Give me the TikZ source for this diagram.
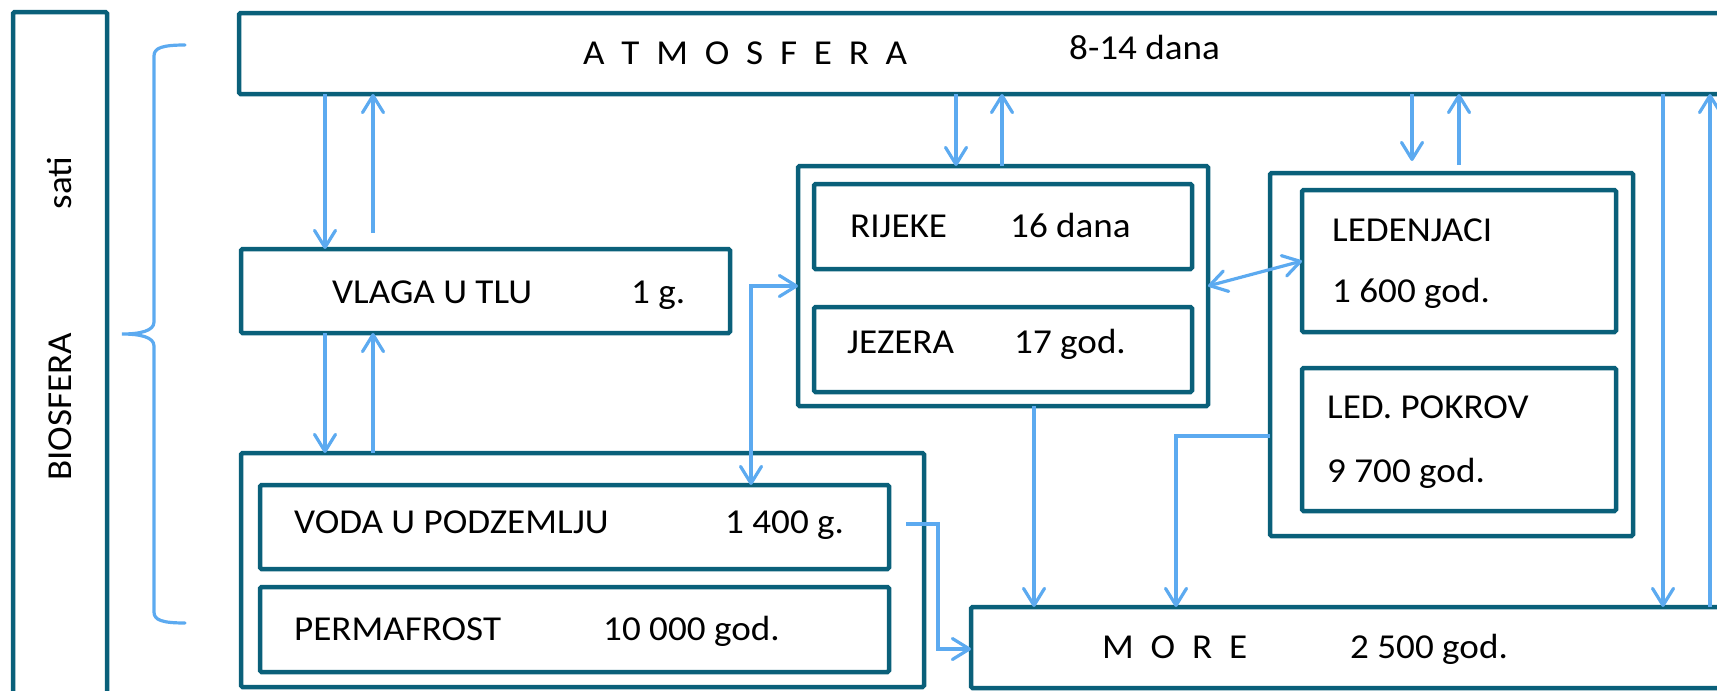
\documentclass[tikz,border=0pt]{standalone}
\usepackage{fontspec}
\setmainfont[FakeStretch=1.06]{Carlito}
\usetikzlibrary{arrows.meta}
\definecolor{boxc}{RGB}{10,96,122}
\definecolor{arrc}{RGB}{92,170,240}
\newcommand\lsp{\hspace{16.8pt}}
\tikzset{
  bx/.style={draw=boxc, line width=4.5pt, rounded corners=1.5pt, inner sep=0pt, outer sep=0pt},
  ln/.style={draw=arrc, line width=3.2pt},
  arr/.style={ln, -{Straight Barb[length=17pt,width=21pt,round]}},
  darr/.style={ln, {Straight Barb[length=17pt,width=21pt,round]}-{Straight Barb[length=17pt,width=21pt,round]}},
  lbl/.style={anchor=base west, inner sep=0pt, font=\fontsize{35}{42}\selectfont},
  rot/.style={anchor=center, inner sep=0pt, rotate=90, font=\fontsize{35}{42}\selectfont},
}
\begin{document}
\begin{tikzpicture}[x=1pt,y=-1pt]
\useasboundingbox (0,0) rectangle (1717,691);
\clip (0,0) rectangle (1717,691);
% boxes
\node[bx, minimum width=94pt,  minimum height=708pt] (bio)      at (60,366) {};
\node[bx, minimum width=1501pt,minimum height=81pt]  (atm)      at (989.5,53.5) {};
\node[bx, minimum width=489pt, minimum height=84pt]  (vlaga)    at (485.5,291) {};
\node[bx, minimum width=683pt, minimum height=234pt] (ground)   at (582.5,570) {};
\node[bx, minimum width=629pt, minimum height=84pt]  (voda)     at (574.5,527) {};
\node[bx, minimum width=629pt, minimum height=85pt]  (perma)    at (574.5,629.5) {};
\node[bx, minimum width=410pt, minimum height=240pt] (rjOuter)  at (1003,286) {};
\node[bx, minimum width=378pt, minimum height=85pt]  (rijeke)   at (1003,226.5) {};
\node[bx, minimum width=378pt, minimum height=85pt]  (jezera)   at (1003,349.5) {};
\node[bx, minimum width=363pt, minimum height=363pt] (ledOuter) at (1451.5,354.5) {};
\node[bx, minimum width=314pt, minimum height=142pt] (leden)    at (1459,261) {};
\node[bx, minimum width=314pt, minimum height=143pt] (pokrov)   at (1459,439.5) {};
\node[bx, minimum width=769pt, minimum height=81pt]  (more)     at (1355.5,647.5) {};
% texts
\node[rot] (tsati) at (60,183) {sati};
\node[rot] (tbio) at (60,407) {BIOSFERA};
\node[lbl] (tatm) at (583,64) {A\lsp T\lsp M\lsp O\lsp S\lsp F\lsp E\lsp R\lsp A};
\node[lbl] (tatmt) at (1069,59) {8-14 dana};
\node[lbl] (tvl) at (332,303) {VLAGA U TLU};
\node[lbl] (tvlt) at (631,303) {1 g.};
\node[lbl] (trij) at (850,237) {RIJEKE};
\node[lbl] (trijt) at (1010,237) {16 dana};
\node[lbl] (tjez) at (847,353) {JEZERA};
\node[lbl] (tjezt) at (1014,353) {17 god.};
\node[lbl] (tvod) at (294,533) {VODA U PODZEMLJU};
\node[lbl] (tvodt) at (725,533) {1 400 g.};
\node[lbl] (tper) at (294,640) {PERMAFROST};
\node[lbl] (tpert) at (603,640) {10 000 god.};
\node[lbl] (tled) at (1332,241) {LEDENJACI};
\node[lbl] (tledt) at (1332,302) {1 600 god.};
\node[lbl] (tpok) at (1327,418) {LED. POKROV};
\node[lbl] (tpokt) at (1327,482) {9 700 god.};
\node[lbl] (tmor) at (1102,658) {M\lsp O\lsp R\lsp E};
\node[lbl] (tmort) at (1350,658) {2 500 god.};
% helper coordinates
\coordinate (c325) at (325,0);
\coordinate (c373) at (373,0);
\coordinate (c1002) at (1002,0);
\coordinate (c956) at (956,0);
\coordinate (c1663) at (1663,0);
\coordinate (c1710) at (1710,0);
\coordinate (c1034) at (1034,0);
\coordinate (a2s) at (373,233);
\coordinate (a7e) at (1412,161);
\coordinate (a8s) at (1459,165);
\coordinate (k12) at (1176,436);
\coordinate (s13) at (906,524);
\coordinate (k13) at (938,649);
\coordinate (k14) at (751,286);
% connectors
\draw[arr] (atm.south -| c325) -- (vlaga.north -| c325);
\draw[arr] (a2s) -- (atm.south -| a2s);
\draw[arr] (vlaga.south -| c325) -- (ground.north -| c325);
\draw[arr] (ground.north -| c373) -- (vlaga.south -| c373);
\draw[arr] (atm.south -| c956) -- (rjOuter.north -| c956);
\draw[arr] (rjOuter.north -| c1002) -- (atm.south -| c1002);
\draw[arr] (atm.south -| a7e) -- (a7e);
\draw[arr] (a8s) -- (atm.south -| a8s);
\draw[arr] (atm.south -| c1663) -- (more.north -| c1663);
\draw[arr] (more.north -| c1710) -- (atm.south -| c1710);
\draw[arr] (rjOuter.south -| c1034) -- (more.north -| c1034);
\draw[arr] (ledOuter.west |- k12) -- (k12) -- (more.north -| k12);
\draw[arr] (s13) -| (k13) -- (more.west |- k13);
\draw[darr] (voda.north -| k14) -- (k14) -- (rjOuter.west);
\draw[darr] (rjOuter.east) -- (leden.west);
% brace
\draw[ln, line cap=round] (185,45) .. controls (162,45) and (154,48) .. (154,56) -- (154,322)
  .. controls (154,331) and (140,334) .. (122,334)
  .. controls (140,334) and (154,337) .. (154,346) -- (154,612)
  .. controls (154,620) and (162,623) .. (185,623);
\end{tikzpicture}
\end{document}
